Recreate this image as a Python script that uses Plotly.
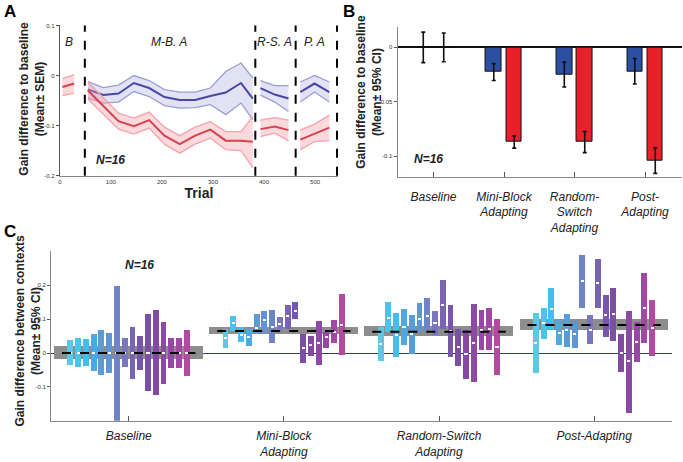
import plotly.graph_objects as go

W, H = 683, 462
FONT = "Liberation Sans, Arial, sans-serif"

# ---------------- Panel A data ----------------
trials_B = [5, 17, 28]
red_B = [-0.023, -0.020, -0.016]
red_B_up = [-0.006, -0.002, 0.002]
red_B_lo = [-0.040, -0.038, -0.035]

trials_MB = [55, 85, 115, 145, 175, 205, 235, 265, 295, 325, 355, 378]
red_MB = [-0.030, -0.060, -0.091, -0.101, -0.089, -0.120, -0.137, -0.120, -0.108, -0.130, -0.130, -0.132]
red_MB_up = [-0.013, -0.045, -0.075, -0.085, -0.073, -0.103, -0.120, -0.103, -0.092, -0.112, -0.112, -0.082]
red_MB_lo = [-0.047, -0.077, -0.107, -0.117, -0.105, -0.137, -0.155, -0.137, -0.125, -0.148, -0.150, -0.184]
blue_MB = [-0.028, -0.039, -0.036, -0.015, -0.025, -0.043, -0.049, -0.049, -0.041, -0.034, -0.015, -0.046]
blue_MB_up = [-0.012, -0.024, -0.019, 0.000, -0.010, -0.028, -0.033, -0.033, -0.025, 0.008, 0.025, -0.005]
blue_MB_lo = [-0.045, -0.055, -0.053, -0.032, -0.042, -0.060, -0.065, -0.064, -0.058, -0.078, -0.055, -0.088]

trials_RS = [393, 421, 448]
red_RS = [-0.107, -0.102, -0.109]
red_RS_up = [-0.089, -0.084, -0.089]
red_RS_lo = [-0.122, -0.115, -0.130]
blue_RS = [-0.025, -0.038, -0.046]
blue_RS_up = [-0.010, -0.020, -0.020]
blue_RS_lo = [-0.039, -0.053, -0.072]

trials_PA = [471, 499, 528]
red_PA = [-0.128, -0.117, -0.104]
red_PA_up = [-0.109, -0.097, -0.079]
red_PA_lo = [-0.148, -0.132, -0.130]
blue_PA = [-0.033, -0.016, -0.033]
blue_PA_up = [-0.013, 0.000, -0.013]
blue_PA_lo = [-0.053, -0.033, -0.053]

phase_bounds = [49, 383, 462, 543]
phase_labels = ["B", "M-B. A", "R-S. A", "P. A"]
phase_label_x = [17, 213, 421, 499]

# ---------------- Panel B data ----------------
conditions = ["Baseline", "Mini-Block<br>Adapting", "Random-<br>Switch<br>Adapting", "Post-<br>Adapting"]
cond_pos = [1, 2, 3, 4]
blue_bar = [0.0, -0.0227, -0.025, -0.022]
blue_ci = [0.0140, 0.0078, 0.0114, 0.0117]
red_bar = [0.0, -0.087, -0.087, -0.104]
red_ci = [0.0132, 0.0056, 0.0097, 0.0118]

# ---------------- Panel C data ----------------
conditions_C = ["Baseline", "Mini-Block<br>Adapting", "Random-Switch<br>Adapting", "Post-Adapting"]
# per subject (16) lows / highs / means for each condition [BL, MB, RS, PA]
subj_low = [
    [-0.036, 0.015, -0.024, -0.060],
    [-0.041, 0.063, 0.061, 0.040],
    [-0.039, 0.030, -0.012, 0.066],
    [-0.055, 0.020, 0.022, 0.022],
    [-0.067, 0.059, -0.004, 0.017],
    [-0.060, 0.059, 0.061, 0.013],
    [-0.230, 0.027, 0.066, 0.131],
    [-0.042, 0.066, 0.051, 0.026],
    [-0.077, 0.071, 0.071, 0.131],
    [-0.050, 0.100, -0.012, 0.047],
    [-0.114, -0.031, -0.038, 0.035],
    [-0.126, -0.010, -0.077, -0.057],
    [-0.092, -0.036, -0.086, -0.177],
    [-0.044, 0.015, 0.008, -0.029],
    [-0.044, 0.027, 0.008, 0.027],
    [-0.070, -0.007, -0.065, -0.009],
]
subj_high = [
    [0.037, 0.071, 0.076, 0.117],
    [0.044, 0.108, 0.150, 0.131],
    [0.040, 0.076, 0.117, 0.192],
    [0.054, 0.071, 0.129, 0.095],
    [0.068, 0.115, 0.112, 0.115],
    [0.059, 0.124, 0.147, 0.093],
    [0.197, 0.126, 0.160, 0.289],
    [0.042, 0.105, 0.123, 0.110],
    [0.076, 0.141, 0.214, 0.275],
    [0.050, 0.149, 0.141, 0.171],
    [0.115, 0.056, 0.069, 0.190],
    [0.126, 0.050, 0.068, 0.056],
    [0.090, 0.092, 0.143, 0.123],
    [0.044, 0.061, 0.126, 0.090],
    [0.044, 0.095, 0.133, 0.234],
    [0.068, 0.173, 0.098, 0.155],
]
subj_mean = [
    [0.0, 0.042, 0.026, 0.029],
    [0.0, 0.088, 0.103, 0.086],
    [0.0, 0.053, 0.051, 0.129],
    [0.0, 0.045, 0.076, 0.059],
    [0.0, 0.074, 0.056, 0.068],
    [0.0, 0.095, 0.100, 0.054],
    [0.0, 0.076, 0.109, 0.212],
    [0.0, 0.084, 0.087, 0.068],
    [0.0, 0.107, 0.141, 0.205],
    [0.0, 0.124, 0.064, 0.110],
    [0.0, 0.013, 0.017, 0.113],
    [0.0, 0.022, -0.004, 0.000],
    [0.0, 0.029, 0.029, -0.026],
    [0.0, 0.045, 0.068, 0.032],
    [0.0, 0.061, 0.071, 0.131],
    [0.0, 0.083, 0.017, 0.074],
]
group_mean = [0.0, 0.065, 0.063, 0.083]
group_ci = [0.019, 0.0095, 0.0145, 0.017]
subj_colors = ["#5dc8e6", "#4cc3ec", "#45bdef", "#4ea9e1", "#579dd9", "#5e96d5",
               "#6f83c8", "#7776be", "#7964b2", "#7857aa", "#7c4fa6", "#8349a4",
               "#8c4aa5", "#9748a5", "#a048a3", "#b04b9f"]

BLUE_LINE, BLUE_EDGE, BLUE_FILL = "#4848a4", "#9c9cd2", "rgba(150,150,215,0.28)"
RED_LINE, RED_EDGE, RED_FILL = "#d7424d", "#f2a3ab", "rgba(245,155,165,0.38)"

fig = go.Figure()


def band(t, m, up, lo, line_c, edge_c, fill_c):
    fig.add_trace(go.Scatter(x=t + t[::-1], y=up + lo[::-1], fill="toself", fillcolor=fill_c,
                             line=dict(width=0), mode="lines", hoverinfo="skip",
                             showlegend=False, xaxis="x", yaxis="y"))
    for e in (up, lo):
        fig.add_trace(go.Scatter(x=t, y=e, mode="lines", line=dict(color=edge_c, width=1.3),
                                 showlegend=False, xaxis="x", yaxis="y"))
    fig.add_trace(go.Scatter(x=t, y=m, mode="lines", line=dict(color=line_c, width=2),
                             showlegend=False, xaxis="x", yaxis="y"))


band(trials_B, red_B, red_B_up, red_B_lo, RED_LINE, RED_EDGE, RED_FILL)
for t, bm, bu, bl, rm, ru, rl in [
    (trials_MB, blue_MB, blue_MB_up, blue_MB_lo, red_MB, red_MB_up, red_MB_lo),
    (trials_RS, blue_RS, blue_RS_up, blue_RS_lo, red_RS, red_RS_up, red_RS_lo),
    (trials_PA, blue_PA, blue_PA_up, blue_PA_lo, red_PA, red_PA_up, red_PA_lo),
]:
    band(t, bm, bu, bl, BLUE_LINE, BLUE_EDGE, BLUE_FILL)
    band(t, rm, ru, rl, RED_LINE, RED_EDGE, RED_FILL)

shapes = []
for pb in phase_bounds:
    shapes.append(dict(type="line", xref="x", yref="y domain", x0=pb, x1=pb, y0=0, y1=1,
                       line=dict(color="black", width=2, dash="dash")))

annotations = []
for lab, lx in zip(phase_labels, phase_label_x):
    annotations.append(dict(text=f"<i>{lab}</i>", x=lx, y=0.066, xref="x", yref="y",
                            showarrow=False, font=dict(size=12, family=FONT, color="#222")))
annotations.append(dict(text="<b><i>N=16</i></b>", x=100, y=-0.168, xref="x", yref="y",
                        showarrow=False, font=dict(size=12, family=FONT, color="#222")))

# ---------------- Panel B ----------------
BW = 0.22
fig.add_trace(go.Bar(x=cond_pos, y=blue_bar, width=BW, offset=-0.255,
                     marker=dict(color="#2d4fa3", line=dict(color="#111", width=1)),
                     error_y=dict(type="data", array=blue_ci, color="#111", thickness=1.6, width=2),
                     showlegend=False, xaxis="x2", yaxis="y2"))
fig.add_trace(go.Bar(x=cond_pos, y=red_bar, width=BW, offset=0.035,
                     marker=dict(color="#e8202a", line=dict(color="#111", width=1)),
                     error_y=dict(type="data", array=red_ci, color="#111", thickness=1.6, width=2),
                     showlegend=False, xaxis="x2", yaxis="y2"))
annotations.append(dict(text="<b><i>N=16</i></b>", x=0.93, y=-0.103, xref="x2", yref="y2",
                        showarrow=False, font=dict(size=12, family=FONT, color="#222")))

# ---------------- Panel C ----------------
fig.add_trace(go.Bar(x=cond_pos, base=[m - c for m, c in zip(group_mean, group_ci)],
                     y=[2 * c for c in group_ci], width=0.96,
                     marker=dict(color="#8d8d8d", line=dict(width=0)),
                     showlegend=False, xaxis="x3", yaxis="y3"))
mx, my = [], []
for p, m in zip(cond_pos, group_mean):
    mx += [p - 0.43, p + 0.43, None]
    my += [m, m, None]
fig.add_trace(go.Scatter(x=mx, y=my, mode="lines", line=dict(color="black", width=2, dash="dash"),
                         showlegend=False, xaxis="x3", yaxis="y3"))
SW, STEP = 0.038, 0.05
for i in range(16):
    off = -0.375 + i * STEP
    lo = subj_low[i]
    hi = subj_high[i]
    fig.add_trace(go.Bar(x=cond_pos, base=lo, y=[h - l for h, l in zip(hi, lo)], width=SW,
                         offset=off - SW / 2,
                         marker=dict(color=subj_colors[i], line=dict(width=0)),
                         showlegend=False, xaxis="x3", yaxis="y3"))
    fig.add_trace(go.Bar(x=cond_pos, base=[m - 0.0015 for m in subj_mean[i]], y=[0.003] * 4,
                         width=0.02, offset=off - 0.01,
                         marker=dict(color="white", line=dict(width=0)),
                         showlegend=False, xaxis="x3", yaxis="y3"))
annotations.append(dict(text="<b><i>N=16</i></b>", x=1.07, y=0.26, xref="x3", yref="y3",
                        showarrow=False, font=dict(size=12, family=FONT, color="#222")))

# ---------------- titles & panel letters ----------------
def ytitle(text, xpx, ypx):
    annotations.append(dict(text=f"<b>{text}</b>", x=xpx / W, y=1 - ypx / H, xref="paper", yref="paper",
                            textangle=-90, showarrow=False, xanchor="center", yanchor="middle",
                            font=dict(size=12, family=FONT, color="#222")))

ytitle("Gain difference to baseline<br>(Mean± SEM)", 30, 97)
ytitle("Gain difference to baseline<br>(Mean± 95% CI)", 368, 90)
ytitle("Gain difference between contexts<br>(Mean± 95% CI)", 26, 332)
for lab, xp, yp in [("A", 8, 9), ("B", 348, 9), ("C", 8, 232)]:
    annotations.append(dict(text=f"<b>{lab}</b>", x=xp / W, y=1 - yp / H, xref="paper", yref="paper",
                            showarrow=False, xanchor="center", yanchor="middle",
                            font=dict(size=17, family=FONT, color="black")))

axcol = "#555"
tickf = dict(size=6, family=FONT, color="#333")
fig.update_layout(
    width=W, height=H, margin=dict(l=0, r=0, t=0, b=0),
    paper_bgcolor="white", plot_bgcolor="white", barmode="overlay", bargap=0,
    font=dict(family=FONT), showlegend=False,
    shapes=shapes, annotations=annotations,
    xaxis=dict(domain=[58 / W, 337 / W], range=[0, 545], anchor="y",
               tickvals=[0, 100, 200, 300, 400, 500], tickfont=tickf, ticks="", showgrid=False,
               zeroline=False, showline=True, linecolor="#888", linewidth=1,
               title=dict(text="<b>Trial</b>", font=dict(size=14, family=FONT, color="#222"), standoff=4)),
    yaxis=dict(domain=[1 - 175 / H, 1 - 22.7 / H], range=[-0.2, 0.1], anchor="x",
               tickvals=[-0.2, -0.1, 0, 0.1], ticktext=["-0.2", "-0.1", "0", "0.1"],
               tickfont=tickf, ticks="outside", ticklen=3, tickcolor=axcol, showgrid=False,
               zeroline=False, showline=True, linecolor=axcol, linewidth=1),
    xaxis2=dict(domain=[396.7 / W, 681.7 / W], range=[0.49, 4.52], anchor="y2",
                tickvals=cond_pos, ticktext=[f"<i>{c}</i>" for c in conditions],
                tickfont=dict(size=12, family=FONT, color="#222"), ticks="inside", ticklen=5,
                tickcolor=axcol, ticklabelstandoff=8, showgrid=False, zeroline=False,
                showline=True, linecolor="#888", linewidth=1),
    yaxis2=dict(domain=[1 - 176.7 / H, 1 - 24 / H], range=[-0.1195, 0.019], anchor="x2",
                tickvals=[-0.1, -0.05, 0], ticktext=["-0.1", "-0.05", "0"], tickfont=tickf,
                ticks="outside", ticklen=3, tickcolor=axcol, showgrid=False,
                zeroline=True, zerolinecolor="#111", zerolinewidth=1.5,
                showline=True, linecolor="#888", linewidth=1),
    xaxis3=dict(domain=[49.3 / W, 671.7 / W], range=[0.5, 4.5], anchor="y3",
                tickvals=cond_pos, ticktext=[f"<i>{c}</i>" for c in conditions_C],
                tickfont=dict(size=12, family=FONT, color="#222"), ticks="inside", ticklen=5,
                tickcolor=axcol, ticklabelstandoff=4, showgrid=False, zeroline=False,
                showline=True, linecolor="#888", linewidth=1),
    yaxis3=dict(domain=[1 - 423.3 / H, 1 - 251.7 / H], range=[-0.2, 0.3], anchor="x3",
                tickvals=[-0.1, 0, 0.1, 0.2], ticktext=["-0.1", "0", "0.1", "0.2"], tickfont=tickf,
                ticks="outside", ticklen=3, tickcolor=axcol, showgrid=False,
                zeroline=True, zerolinecolor="#2b3990", zerolinewidth=1,
                showline=True, linecolor="#888", linewidth=1),
)

fig.write_html("out.html", config={"displayModeBar": False},
               post_script="document.body.style.margin='0';document.body.style.overflow='hidden';")
